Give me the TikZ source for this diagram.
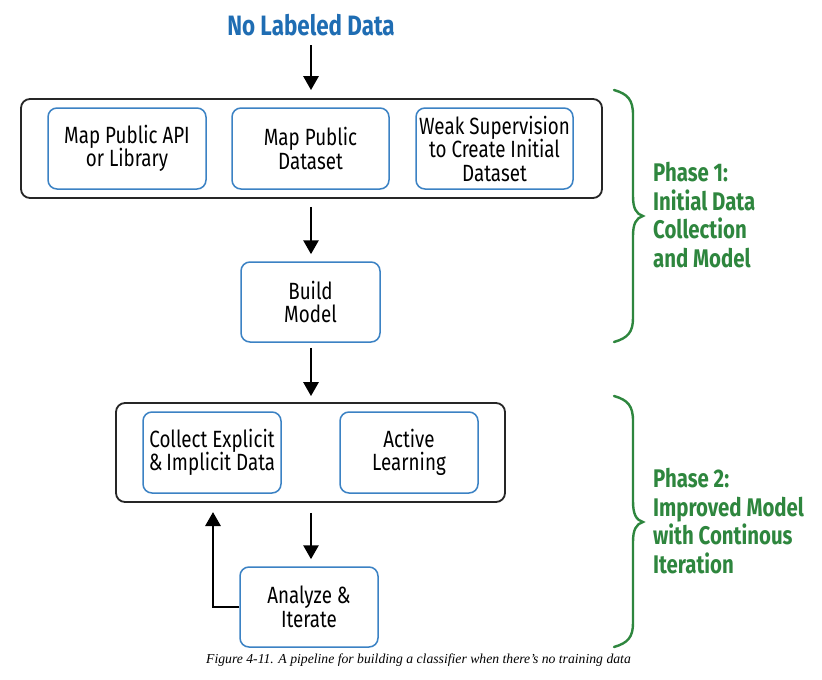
\documentclass[tikz,border=0pt]{standalone}
\usepackage{fontspec}
\usetikzlibrary{arrows.meta}
\newfontfamily\condfont[FakeStretch=0.80]{Fira Sans}
\setmainfont{Liberation Serif}
\definecolor{titleblue}{RGB}{31,109,179}
\definecolor{boxblue}{RGB}{59,130,196}
\definecolor{phasegreen}{RGB}{46,134,62}
\tikzset{
  outerbox/.style={draw=black!85, line width=1.8pt, rounded corners=9pt},
  innerbox/.style={draw=boxblue, line width=1.5pt, rounded corners=9pt, align=center,
    font=\condfont\fontsize{23.5}{23.5}\selectfont, inner sep=0pt},
  arr/.style={line width=2.8pt, -{Triangle[width=15pt,length=14pt]}},
  bracestyle/.style={draw=phasegreen, line width=2.4pt, line cap=round},
  phasetext/.style={text=phasegreen, align=left, anchor=west,
    font=\condfont\bfseries\fontsize{25.5}{28.7}\selectfont, inner sep=0pt},
}
\begin{document}
\begin{tikzpicture}[x=1pt,y=-1pt]
\useasboundingbox (0,0) rectangle (822,680);
\fill[white] (0,0) rectangle (822,680);

\node[text=titleblue, font=\condfont\bfseries\fontsize{28}{30}\selectfont, inner sep=0pt] (title) at (311,25) {No Labeled Data};

\node[outerbox, minimum width=581pt, minimum height=99pt] (outer1) at (311.5,148.5) {};
\node[innerbox, minimum width=158pt, minimum height=81pt] (api) at (127,148.5) {Map Public API\\or Library};
\node[innerbox, minimum width=157pt, minimum height=81pt] (pubdata) at (310.5,148.5) {Map Public\\Dataset};
\node[innerbox, minimum width=157pt, minimum height=81pt] (weak) at (494.5,148.5) {Weak Supervision\\to Create Initial\\Dataset};

\node[innerbox, minimum width=139pt, minimum height=80pt] (build) at (310.5,302) {Build\\Model};

\node[outerbox, minimum width=389pt, minimum height=99pt] (outer2) at (310.5,452.5) {};
\node[innerbox, minimum width=138pt, minimum height=81pt] (collect) at (212,452.5) {Collect Explicit\\\&\,Implicit Data};
\node[innerbox, minimum width=138pt, minimum height=81pt] (active) at (409,452.5) {Active\\Learning};

\node[innerbox, minimum width=138pt, minimum height=80pt] (analyze) at (309,607) {Analyze \&\\Iterate};

\coordinate (t1) at (311,45);
\coordinate (fbtop) at (213,512);
\draw[arr] (t1) -- ([yshift=8pt]outer1.north -| t1);
\draw[arr] ([yshift=-8pt]outer1.south -| t1) -- ([yshift=7pt]build.north -| t1);
\draw[arr] ([yshift=-5pt]build.south -| t1) -- ([yshift=6pt]outer2.north -| t1);
\draw[arr] ([yshift=-10pt]outer2.south -| t1) -- ([yshift=7pt]analyze.north -| t1);
\draw[arr] (analyze.west) -| (fbtop);

% braces
\draw[bracestyle] (614,90) .. controls (628,94) and (633,100) .. (633,115)
  -- (633,196) .. controls (633,208) and (636,214) .. (643,216)
  .. controls (636,218) and (633,224) .. (633,236)
  -- (633,318) .. controls (633,332) and (628,338) .. (614,342);
\draw[bracestyle] (614,396) .. controls (628,400) and (633,406) .. (633,421)
  -- (633,501) .. controls (633,514) and (636,520) .. (643,522)
  .. controls (636,524) and (633,530) .. (633,542)
  -- (633,623) .. controls (633,637) and (628,643) .. (614,647);

\node[phasetext] (phase1) at (653,215) {Phase 1:\\Initial Data\\Collection\\and Model};
\node[phasetext] (phase2) at (653,521) {Phase 2:\\Improved Model\\with Continous\\Iteration};

\node[font=\itshape\fontsize{13.7}{16}\selectfont, inner sep=0pt] (caption) at (418.5,660) {Figure 4-11. A pipeline for building a classifier when there’s no training data};
\end{tikzpicture}
\end{document}
